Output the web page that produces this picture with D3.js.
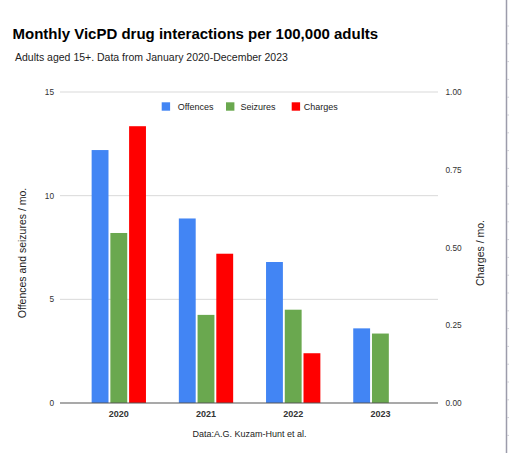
<!DOCTYPE html>
<html lang="en">
<head>
    <meta charset="UTF-8">
    <title>VicPD drug interactions</title>
    <script src="https://d3js.org/d3.v7.min.js"></script>
    <style>
        body { margin: 0; background: #fff; }
        text { font-family: "Liberation Sans", Arial, sans-serif; }
    </style>
</head>
<body>
<div id="chart"></div>
<script>
    // data
    var years = ["2020", "2021", "2022", "2023"];
    var offences = [12.2, 8.9, 6.8, 3.6];
    var seizures = [8.2, 4.25, 4.5, 3.35];
    var charges = [0.89, 0.48, 0.16, null];   // right axis
    var seriesNames = ["Offences", "Seizures", "Charges"];
    var seriesColors = ["#4285f4", "#6aa84f", "#ff0000"];
    var leftTicks = [0, 5, 10, 15];
    var rightTicks = [0, 0.25, 0.5, 0.75, 1];

    var width = 509, height = 453;
    var svg = d3.select("#chart").append("svg")
        .attr("width", width).attr("height", height);

    var gridLeft = 60, gridRight = 438, plotTop = 92, plotBottom = 403;

    var yLeft = d3.scaleLinear().domain([0, 15]).range([plotBottom, plotTop]);
    var yRight = d3.scaleLinear().domain([0, 1]).range([plotBottom, plotTop]);

    var x0 = d3.scaleBand().domain(years).range([75.2, 424])
        .paddingInner(0.377).paddingOuter(0.1885);
    var x1 = d3.scaleBand().domain(seriesNames).range([0, x0.bandwidth()])
        .paddingInner(0.1);

    // title block
    svg.append("text").attr("x", 12.5).attr("y", 39)
        .attr("font-size", 15).attr("font-weight", "bold").attr("fill", "#000")
        .text("Monthly VicPD drug interactions per 100,000 adults");
    svg.append("text").attr("x", 15).attr("y", 61)
        .attr("font-size", 10.5).attr("fill", "#222")
        .text("Adults aged 15+. Data from January 2020-December 2023");

    // gridlines
    svg.append("g").selectAll("line").data(leftTicks.slice(1)).enter().append("line")
        .attr("x1", gridLeft).attr("x2", gridRight)
        .attr("y1", function (d) { return yLeft(d); })
        .attr("y2", function (d) { return yLeft(d); })
        .attr("stroke", "#d9d9d9").attr("stroke-width", 1);

    // bars
    var rows = years.map(function (y, i) {
        return {year: y, vals: [
            {s: "Offences", v: offences[i], y: yLeft, c: seriesColors[0]},
            {s: "Seizures", v: seizures[i], y: yLeft, c: seriesColors[1]},
            {s: "Charges", v: charges[i], y: yRight, c: seriesColors[2]}
        ]};
    });
    var groups = svg.append("g").selectAll("g").data(rows).enter().append("g")
        .attr("transform", function (d) { return "translate(" + x0(d.year) + ",0)"; });
    groups.selectAll("rect")
        .data(function (d) { return d.vals.filter(function (b) { return b.v != null; }); })
        .enter().append("rect")
        .attr("x", function (b) { return x1(b.s); })
        .attr("width", x1.bandwidth())
        .attr("y", function (b) { return b.y(b.v); })
        .attr("height", function (b) { return plotBottom - b.y(b.v); })
        .attr("fill", function (b) { return b.c; });

    // baseline
    svg.append("line").attr("x1", gridLeft).attr("x2", gridRight)
        .attr("y1", plotBottom).attr("y2", plotBottom)
        .attr("stroke", "#555").attr("stroke-width", 1.2);

    // left axis labels
    svg.append("g").selectAll("text").data(leftTicks).enter().append("text")
        .attr("x", 54).attr("y", function (d) { return yLeft(d) + 3; })
        .attr("text-anchor", "end").attr("font-size", 8.3).attr("fill", "#333")
        .text(function (d) { return d; });

    // right axis labels
    svg.append("g").selectAll("text").data(rightTicks).enter().append("text")
        .attr("x", 445.5).attr("y", function (d) { return yRight(d) + 3; })
        .attr("font-size", 8.3).attr("fill", "#333")
        .text(function (d) { return d3.format(".2f")(d); });

    // x labels
    svg.append("g").selectAll("text").data(years).enter().append("text")
        .attr("x", function (d) { return x0(d) + x0.bandwidth() / 2; })
        .attr("y", 417).attr("text-anchor", "middle")
        .attr("font-size", 9).attr("font-weight", "bold").attr("fill", "#333")
        .text(function (d) { return d; });

    // axis titles
    svg.append("text").attr("transform", "translate(26,253) rotate(-90)")
        .attr("text-anchor", "middle").attr("font-size", 10.5).attr("fill", "#222")
        .text("Offences and seizures / mo.");
    svg.append("text").attr("transform", "translate(484,253) rotate(-90)")
        .attr("text-anchor", "middle").attr("font-size", 10.5).attr("fill", "#222")
        .text("Charges / mo.");
    svg.append("text").attr("x", 249.5).attr("y", 437)
        .attr("text-anchor", "middle").attr("font-size", 9).attr("fill", "#222")
        .text("Data:A.G. Kuzam-Hunt et al.");

    // legend
    var legendX = [161.7, 226, 291.7];
    var legend = svg.append("g").selectAll("g").data(seriesNames).enter().append("g")
        .attr("transform", function (d, i) { return "translate(" + legendX[i] + ",102.3)"; });
    legend.append("rect").attr("width", 8.4).attr("height", 8.4)
        .attr("fill", function (d, i) { return seriesColors[i]; });
    legend.append("text").attr("x", function (d, i) { return [16, 14.5, 12][i]; }).attr("y", 7.6)
        .attr("font-size", 9).attr("fill", "#222")
        .text(function (d) { return d; });

    // sheet cell edge on the right
    svg.append("line").attr("x1", 506.5).attr("x2", 506.5).attr("y1", 0).attr("y2", height)
        .attr("stroke", "#9c9cab").attr("stroke-width", 1.5);
    svg.append("g").selectAll("line").data(d3.range(26, height, 17.8)).enter().append("line")
        .attr("x1", 507).attr("x2", 509)
        .attr("y1", function (d) { return d; }).attr("y2", function (d) { return d; })
        .attr("stroke", "#d0d0d8").attr("stroke-width", 1);
</script>
</body>
</html>
